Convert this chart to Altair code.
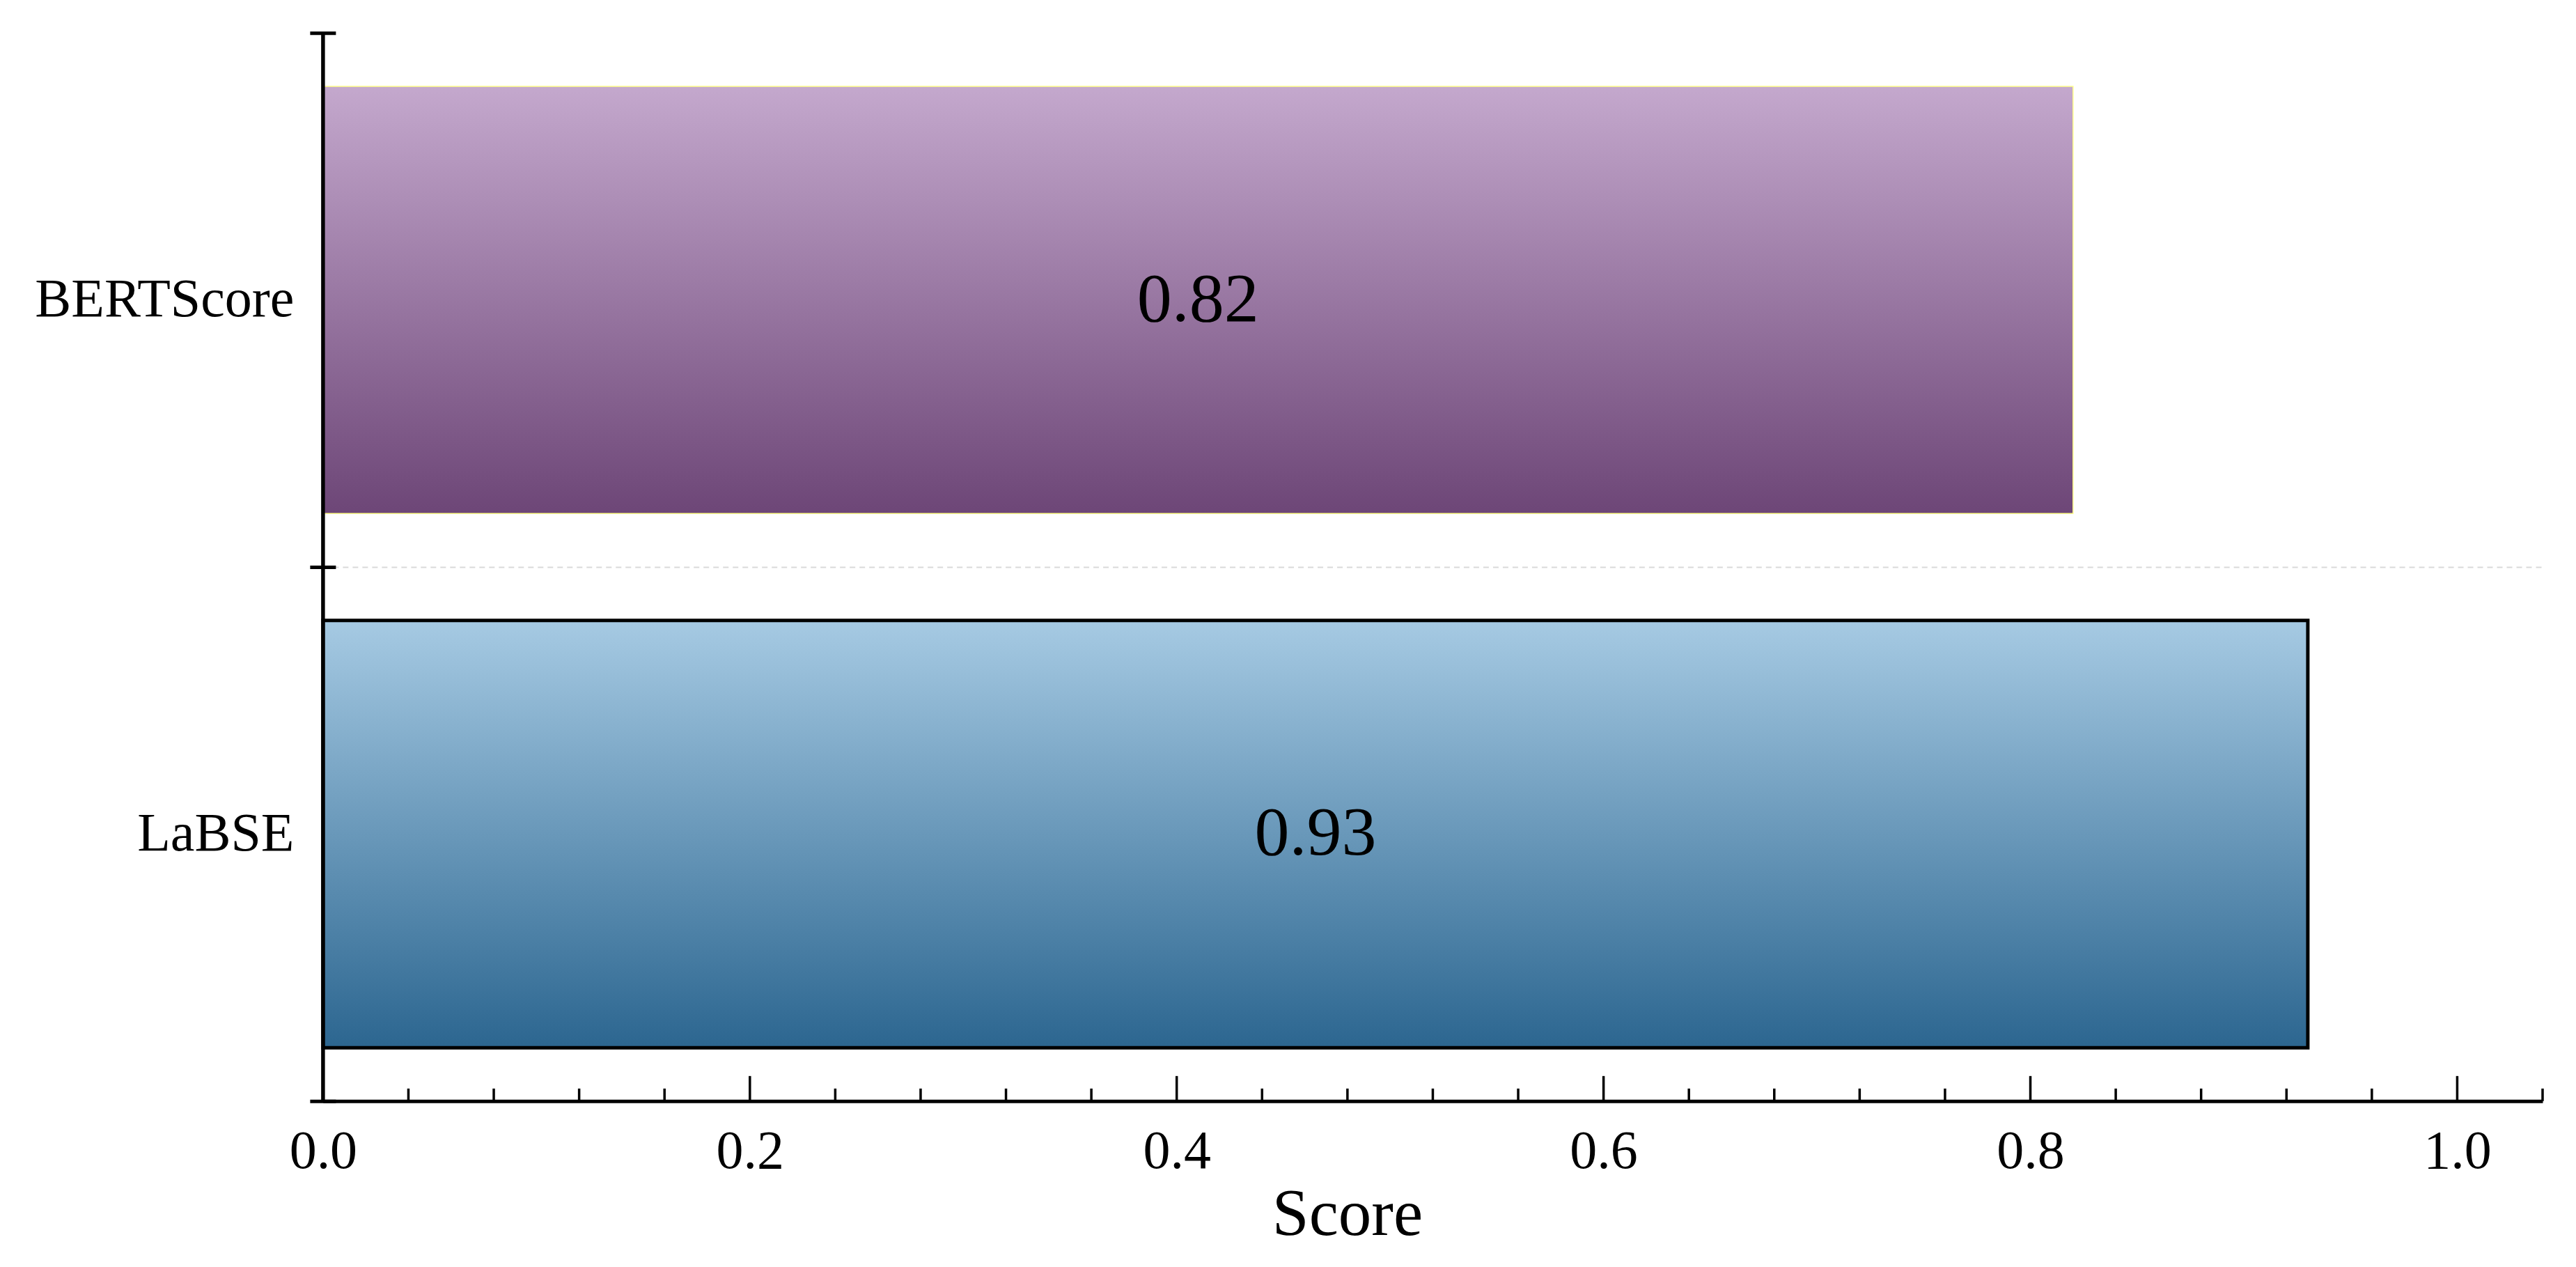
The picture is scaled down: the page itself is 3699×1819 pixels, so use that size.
import altair as alt
import pandas as pd

# ---- data ----
models = ["BERTScore", "LaBSE"]
scores = [0.82, 0.93]
major_ticks = [0.0, 0.2, 0.4, 0.6, 0.8, 1.0]
minor_ticks = [0.04, 0.08, 0.12, 0.16, 0.24, 0.28, 0.32, 0.36, 0.44, 0.48,
               0.52, 0.56, 0.64, 0.68, 0.72, 0.76, 0.84, 0.88, 0.92, 0.96, 1.04]
x_domain = [0.0, 1.04]
purple_stops = ["#c4a8cd", "#6d4677"]
blue_stops = ["#a6cae3", "#2c6690"]

# ---- layout ----
W, H = 3188, 1534
FONT = "Liberation Serif"

df = pd.DataFrame({"model": models, "score": scores})
ticks_major = pd.DataFrame({"t": major_ticks})
ticks_minor = pd.DataFrame({"t": minor_ticks})

xscale = alt.Scale(domain=x_domain, nice=False, zero=True)
yscale = alt.Scale(domain=models, paddingInner=0, paddingOuter=0)

x_axis = alt.Axis(
    values=major_ticks, format=".1f", ticks=False, grid=False,
    domain=True, domainColor="black", domainWidth=5,
    labelFont=FONT, labelFontSize=78, labelColor="black", labelPadding=34,
    labelFlush=False,
    title="Score", titleFont=FONT, titleFontSize=95, titleFontWeight="normal",
    titleColor="black", titleX=1471, titleY=192, titleBaseline="alphabetic",
    titleAlign="center",
)
y_axis = alt.Axis(
    title=None, orient="left", offset=-18, tickSize=37, tickWidth=5,
    tickColor="black", tickBand="extent", domain=False,
    labelFont=FONT, labelFontSize=78, labelColor="black", labelPadding=23,
    labelLimit=0,
    grid=True, gridColor="#d9d9d9", gridWidth=2, gridDash=[8, 6],
    gridOpacity={"condition": {"test": "datum.value === 'BERTScore'", "value": 1}, "value": 0},
)


def grad(stops):
    return alt.Gradient(
        gradient="linear",
        stops=[alt.GradientStop(color=stops[0], offset=0),
               alt.GradientStop(color=stops[1], offset=1)],
        x1=0, x2=0, y1=0, y2=1,
    )


def yenc():
    return alt.Y("model:N", scale=yscale, sort=models, axis=y_axis)


base = alt.Chart(df)

bar_b = base.transform_filter(alt.datum.model == models[0]).mark_bar(
    color=grad(purple_stops), stroke="#ffff8a", strokeWidth=1.5,
    height={"band": 0.8},
).encode(
    x=alt.X("score:Q", scale=xscale, axis=x_axis),
    y=yenc(),
)

bar_l = base.transform_filter(alt.datum.model == models[1]).mark_bar(
    color=grad(blue_stops), stroke="black", strokeWidth=5,
    height={"band": 0.8},
).encode(
    x=alt.X("score:Q", scale=xscale, axis=x_axis),
    y=yenc(),
)

labels = base.transform_calculate(mid="datum.score / 2").mark_text(
    font=FONT, fontSize=100, color="black", align="center", baseline="middle"
).encode(
    x=alt.X("mid:Q", scale=xscale, axis=x_axis),
    y=yenc(),
    text=alt.Text("score:Q", format=".2f"),
)

y_line = alt.Chart(df).mark_rule(color="black", strokeWidth=5).encode(
    x=alt.X("zero:Q", scale=xscale, axis=x_axis),
).transform_calculate(zero="0")

maj = alt.Chart(ticks_major).mark_rule(color="black", strokeWidth=3.5).encode(
    x=alt.X("t:Q", scale=xscale, axis=x_axis),
    y=alt.value(H), y2=alt.value(H - 36),
)
mnr = alt.Chart(ticks_minor).mark_rule(color="black", strokeWidth=3.5).encode(
    x=alt.X("t:Q", scale=xscale, axis=x_axis),
    y=alt.value(H), y2=alt.value(H - 18),
)

chart = alt.layer(bar_b, bar_l, labels, maj, mnr, y_line).properties(
    width=W, height=H,
    autosize=alt.AutoSizeParams(type="none"),
    padding={"left": 456, "top": 39, "right": 40, "bottom": 230},
    background="white",
).configure_view(stroke=None)

chart.save("out.html", embed_options={"renderer": "svg", "actions": False})
